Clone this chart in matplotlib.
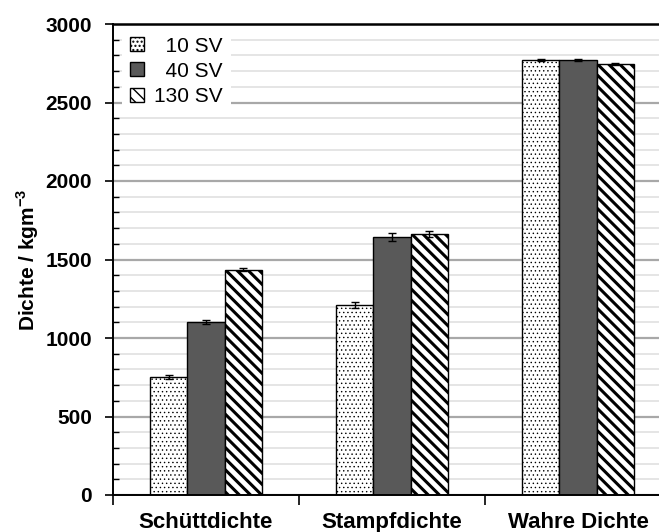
import numpy as np
import matplotlib
matplotlib.use('Agg')
import matplotlib.pyplot as plt
from matplotlib.ticker import MultipleLocator

plt.rcParams['font.family'] = ['Liberation Sans', 'DejaVu Sans']
plt.rcParams['mathtext.fontset'] = 'custom'
plt.rcParams['mathtext.rm'] = 'Liberation Sans'
plt.rcParams['mathtext.bf'] = 'Liberation Sans:bold'

# Daten
kategorien = ['Schüttdichte', 'Stampfdichte', 'Wahre Dichte']
serien = ['  10 SV', '  40 SV', '130 SV']
werte_10 = [752, 1210, 2770]
werte_40 = [1102, 1645, 2771]
werte_130 = [1435, 1661, 2745]
fehler_10 = [10, 20, 5]
fehler_40 = [10, 25, 5]
fehler_130 = [8, 20, 5]

fig = plt.figure(figsize=(6.59, 5.32), dpi=100)
ax = fig.add_axes([113 / 659, 37 / 532, 558 / 659, 471 / 532])

x = np.arange(len(kategorien))
w = 0.2

# Gitter
ax.yaxis.set_major_locator(MultipleLocator(500))
ax.yaxis.set_minor_locator(MultipleLocator(100))
ax.grid(which='minor', axis='y', color='#e3e3e3', linewidth=1.3, zorder=0)
ax.grid(which='major', axis='y', color='#a8a8a8', linewidth=1.6, zorder=0)
ax.set_axisbelow(True)

# Balken
with plt.rc_context({'hatch.linewidth': 0.5, 'hatch.color': '#444444'}):
    b1 = ax.bar(x - w, werte_10, w, color='white', edgecolor='black', linewidth=1,
                hatch='....', label=serien[0], zorder=2)
b2 = ax.bar(x, werte_40, w, color='#595959', edgecolor='black', linewidth=1,
            label=serien[1], zorder=2)
with plt.rc_context({'hatch.linewidth': 2.2}):
    b3 = ax.bar(x + w, werte_130, w, color='white', edgecolor='black', linewidth=1,
                hatch='\\\\\\', label=serien[2], zorder=2)

ax.errorbar(x - w, werte_10, yerr=fehler_10, fmt='none', ecolor='black', elinewidth=1, capsize=3, zorder=3)
ax.errorbar(x, werte_40, yerr=fehler_40, fmt='none', ecolor='black', elinewidth=1, capsize=3, zorder=3)
ax.errorbar(x + w, werte_130, yerr=fehler_130, fmt='none', ecolor='black', elinewidth=1, capsize=3, zorder=3)

ax.set_xlim(-0.5, 2.5)
ax.set_ylim(0, 3000)

# Achsen
ax.set_xticks([-0.5, 0.5, 1.5, 2.5])
ax.set_xticklabels([])
ax.set_xticks(x, minor=True)
ax.set_xticklabels(kategorien, minor=True, fontsize=16, fontweight='bold')
ax.tick_params(axis='x', which='major', direction='out', length=7, width=1.2)
ax.tick_params(axis='x', which='minor', length=0, pad=12)
ax.tick_params(axis='y', which='major', direction='out', length=6, width=1.2, labelsize=15, pad=9)
ax.tick_params(axis='y', which='minor', direction='in', length=4, width=1)
for lbl in ax.get_yticklabels():
    lbl.set_fontweight('bold')

ax.spines['right'].set_visible(False)
ax.spines['left'].set_linewidth(1.4)
ax.spines['bottom'].set_linewidth(1.4)
ax.spines['top'].set_linewidth(1.8)

ax.set_ylabel(r'Dichte / kgm$^{\mathbf{-3}}$', fontsize=15, fontweight='bold', labelpad=3)

leg = ax.legend(loc='upper left', bbox_to_anchor=(0.008, 1.0), fontsize=15,
                handlelength=0.65, handleheight=0.65, handletextpad=0.5,
                labelspacing=0.3, frameon=True, fancybox=False, borderaxespad=0.2)
leg.get_frame().set_facecolor('white')
leg.get_frame().set_edgecolor('none')
leg.get_frame().set_alpha(1)

fig.savefig('out.png', dpi=100)
